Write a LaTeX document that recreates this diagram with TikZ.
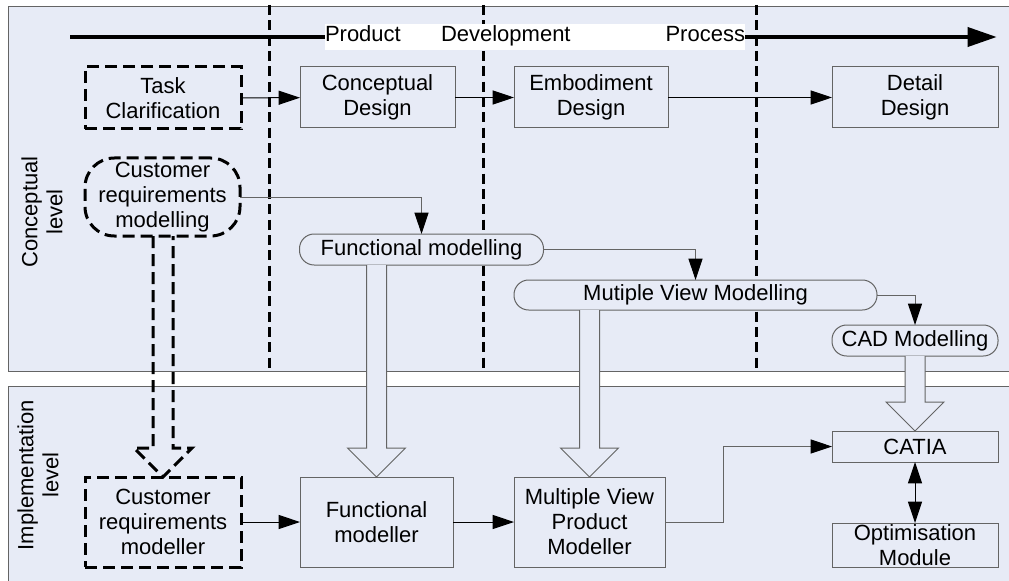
\documentclass[tikz,border=0pt]{standalone}
\usepackage{fontspec}
\setmainfont{Liberation Sans}
\usetikzlibrary{arrows.meta,calc}
\definecolor{panelfill}{RGB}{231,235,246}
\definecolor{boxline}{RGB}{100,100,100}
% hollow block arrow from the bottom of #2 to the top of #3
\newcommand{\blockarrow}[3][]{%
  \draw[#1] ($(#3.north |- #2.south)+(-10,0)$) -- ($(#3.north)+(-10,-29)$) -- ($(#3.north)+(-29,-29)$) -- (#3.north)
    -- ($(#3.north)+(29,-29)$) -- ($(#3.north)+(10,-29)$) -- ($(#3.north |- #2.south)+(10,0)$);}
\begin{document}
\begin{tikzpicture}[x=0.75pt, y=-0.75pt, inner sep=0pt, outer sep=0pt,
  font=\fontsize{16.5}{18.75}\selectfont,
  panel/.style={draw=boxline, line width=0.75pt, fill=panelfill},
  box/.style={draw=boxline, line width=0.75pt, fill=panelfill, align=center, minimum height=45.75pt},
  pill/.style={box, rounded corners=11pt, minimum height=23.25pt},
  dashbox/.style={draw=black, line width=2.25pt, dash pattern=on 9pt off 4.5pt, fill=panelfill, align=center},
  sep/.style={line width=2.25pt, dash pattern=on 7.5pt off 4pt},
  conn/.style={-{Triangle[length=16pt,width=10.5pt,black]}, line width=0.75pt},
  block/.style={draw=boxline, line width=0.75pt, fill=panelfill}]
\useasboundingbox (0,0) rectangle (1009,581);
\fill[white] (0,0) rectangle (1009,581);
% levels
\draw[panel] (8,7) rectangle (1020,371);
\draw[panel] (8,386) rectangle (1020,600);
\node[rotate=90, align=center] (conclabel) at (42,212) {Conceptual\\level};
\node[rotate=90, align=center] (implabel) at (38,475) {Implementation\\level};
% phase separators
\foreach \x in {269,483,756}
  \draw[sep] (\x,5) -- (\x,371);
% process arrow
\coordinate (pdpstart) at (70,37);
\coordinate (pdpend) at (997,37);
\draw[line width=3.5pt, -{Triangle[length=22pt,width=14pt]}] (pdpstart) -- (pdpend);
\node[fill=white, minimum width=315pt, minimum height=19.5pt] (pdpbox) at (535,37) {};
\node[anchor=base west] (product) at (325,42) {Product};
\node[anchor=base west] (development) at (441,42) {Development};
\node[anchor=base east] (process) at (745,42) {Process};
% design phases
\node[dashbox, minimum width=117pt, minimum height=46.5pt] (task) at (163,98) {Task\\Clarification};
\node[box, minimum width=116.25pt] (cd) at (377.5,97.5) {Conceptual\\Design};
\node[box, minimum width=115.5pt] (ed) at (591,97.5) {Embodiment\\Design};
\node[box, minimum width=124.5pt] (dd) at (915,97.5) {Detail\\Design};
% conceptual level
\node[dashbox, rounded corners=22pt, minimum width=116.25pt, minimum height=58.5pt] (crm) at (162.5,197) {Customer\\requirements\\modelling};
\node[pill, minimum width=183pt] (fm) at (421.5,249.5) {Functional modelling};
\node[pill, minimum width=272.25pt, minimum height=22.5pt] (mvm) at (695.5,295) {Mutiple View Modelling};
\node[pill, minimum width=124.5pt] (cad) at (915,340.5) {CAD Modelling};
% implementation level
\node[dashbox, minimum width=117pt, minimum height=67.5pt] (crmer) at (163,522) {Customer\\requirements\\modeller};
\node[box, minimum width=114.75pt, minimum height=67.5pt] (fmer) at (376.5,522) {Functional\\modeller};
\node[box, minimum width=113.25pt, minimum height=67.5pt] (mvpm) at (589.5,522) {Multiple View\\Product\\Modeller};
\node[box, minimum width=124.5pt, minimum height=23.25pt] (catia) at (915,446.5) {CATIA};
\node[box, minimum width=124.5pt, minimum height=33pt] (opt) at (915,545) {Optimisation\\Module};
% connectors
\draw[conn] (task) -- (cd);
\draw[conn] (cd) -- (ed);
\draw[conn] (ed) -- (dd);
\draw[conn, draw=boxline] (crm.east) -| (fm.north);
\draw[conn, draw=boxline] (fm.east) -| (mvm.north);
\draw[conn, draw=boxline] (mvm.east) -| (cad.north);
\draw[conn] (crmer) -- (fmer);
\draw[conn] (fmer) -- (mvpm);
\draw[conn, draw=boxline] (mvpm.east) -- ++(58,0) |- (catia.west);
\draw[{Triangle[length=16pt,width=10.5pt]}-{Triangle[length=16pt,width=10.5pt]}, line width=0.75pt] (catia) -- (opt);
% refinement arrows
\blockarrow[block]{fm}{fmer}
\blockarrow[block]{mvm}{mvpm}
\blockarrow[block]{cad}{catia}
\blockarrow[draw=black, line width=2.25pt, dash pattern=on 9pt off 4.5pt]{crm}{crmer}
\end{tikzpicture}
\end{document}
